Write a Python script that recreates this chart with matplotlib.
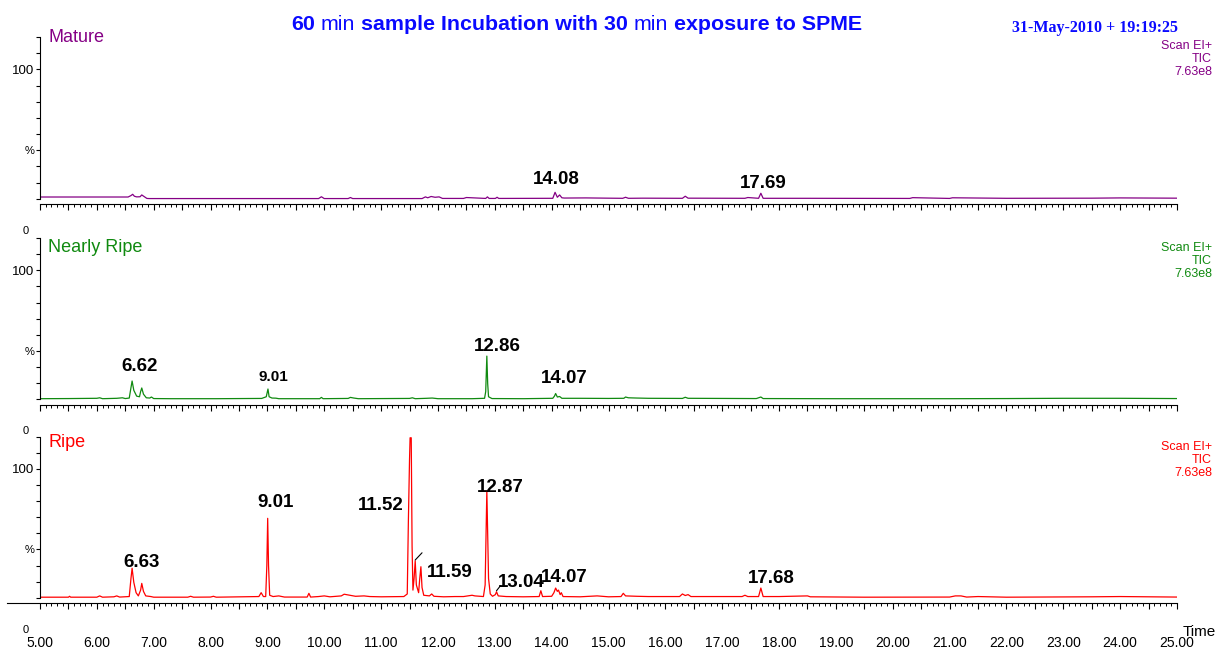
import matplotlib
matplotlib.use('Agg')
import matplotlib.pyplot as plt
from matplotlib.ticker import MultipleLocator, FuncFormatter

plt.rcParams['font.family'] = ['Liberation Sans', 'DejaVu Sans']

# ---- data: (retention time [min], relative intensity [%]) ----
mature = [
    (5.00, 1.4), (6.55, 1.4), (6.60, 2.5), (6.63, 3.5), (6.66, 2.0), (6.70, 1.5),
    (6.76, 1.6), (6.79, 3.0), (6.83, 1.8), (6.88, 0.3), (6.92, 0.2), (9.90, 0.2),
    (9.95, 1.6), (10.00, 0.2), (10.42, 0.2), (10.46, 1.0), (10.50, 0.2), (11.72, 0.2),
    (11.78, 1.5), (11.82, 0.8), (11.88, 1.8), (11.95, 1.2), (12.02, 1.5), (12.08, 0.3),
    (12.45, 0.3), (12.50, 1.0), (12.84, 0.3), (12.87, 1.5), (12.90, 0.3), (13.01, 0.3),
    (13.04, 1.2), (13.07, 0.3), (14.02, 0.4), (14.06, 5.0), (14.10, 1.2), (14.14, 3.0),
    (14.18, 0.8), (14.22, 0.6), (14.60, 0.7), (15.00, 0.5), (15.25, 0.4), (15.30, 1.2),
    (15.35, 0.4), (15.60, 0.5), (16.30, 0.4), (16.35, 2.0), (16.40, 0.5), (17.40, 0.4),
    (17.45, 1.0), (17.64, 0.4), (17.68, 4.3), (17.72, 0.4), (18.50, 0.4), (20.30, 0.3),
    (20.35, 0.9), (21.00, 0.3), (21.05, 0.8), (22.00, 0.4), (23.50, 0.5), (24.00, 0.7),
    (25.00, 0.5),
]

nearly_ripe = [
    (5.00, 0.5), (5.50, 0.6), (6.00, 0.8), (6.05, 1.2), (6.10, 0.5), (6.35, 0.8),
    (6.45, 1.2), (6.50, 0.6), (6.57, 1.0), (6.60, 9.0), (6.62, 14.2), (6.65, 7.0),
    (6.70, 2.5), (6.75, 2.0), (6.77, 6.0), (6.79, 8.8), (6.82, 4.0), (6.87, 1.2),
    (6.93, 1.0), (6.96, 1.8), (7.00, 0.6), (7.30, 0.5), (8.10, 0.5), (8.90, 0.7),
    (8.98, 2.0), (9.01, 8.0), (9.03, 2.0), (9.08, 1.0), (9.15, 0.9), (9.20, 0.5),
    (9.92, 0.5), (9.95, 1.5), (9.98, 0.5), (10.42, 0.7), (10.46, 1.5), (10.52, 1.0),
    (10.60, 0.5), (11.50, 0.7), (11.55, 1.2), (11.60, 0.5), (11.80, 0.8), (11.90, 1.0),
    (12.00, 0.5), (12.60, 0.5), (12.82, 0.8), (12.84, 6.0), (12.86, 33.5), (12.875, 12.0),
    (12.89, 2.0), (12.95, 0.6), (13.50, 0.5), (14.02, 0.8), (14.05, 2.5), (14.07, 4.5),
    (14.10, 1.8), (14.14, 2.2), (14.18, 0.8), (14.50, 0.8), (15.00, 0.7), (15.27, 0.8),
    (15.30, 1.8), (15.35, 1.2), (15.50, 1.0), (15.70, 0.8), (16.30, 0.7), (16.35, 1.6),
    (16.40, 0.8), (17.60, 0.6), (17.68, 1.8), (17.72, 0.6), (19.00, 0.5), (21.00, 0.5),
    (22.00, 0.6), (23.00, 0.8), (24.00, 0.8), (25.00, 0.6),
]

ripe = [
    (5.00, 0.5), (5.50, 0.5), (5.52, 1.2), (5.54, 0.5), (6.00, 0.5), (6.05, 1.5),
    (6.10, 0.5), (6.30, 0.8), (6.35, 1.5), (6.40, 0.6), (6.57, 1.0), (6.60, 15.0),
    (6.62, 22.9), (6.65, 12.0), (6.69, 4.0), (6.73, 1.5), (6.77, 6.0), (6.79, 11.2),
    (6.82, 5.0), (6.86, 1.5), (6.95, 1.0), (7.00, 0.5), (7.60, 0.5), (7.65, 1.2),
    (7.70, 0.5), (8.00, 0.6), (8.05, 1.2), (8.10, 0.5), (8.85, 1.0), (8.89, 4.0),
    (8.93, 1.0), (8.97, 1.0), (8.99, 25.0), (9.005, 61.6), (9.02, 25.0), (9.04, 2.0),
    (9.10, 1.0), (9.20, 1.5), (9.30, 0.6), (9.70, 0.6), (9.73, 3.5), (9.76, 0.6),
    (9.90, 1.0), (10.00, 1.5), (10.10, 0.8), (10.30, 1.5), (10.35, 2.8), (10.45, 2.0),
    (10.55, 1.2), (10.70, 1.5), (10.80, 1.0), (11.00, 0.8), (11.40, 1.0), (11.46, 3.0),
    (11.48, 60.0), (11.50, 107.0), (11.51, 124.0), (11.53, 124.0), (11.545, 40.0),
    (11.56, 6.0), (11.58, 15.0), (11.60, 28.7), (11.62, 10.0), (11.66, 4.0), (11.68, 15.0),
    (11.70, 24.1), (11.72, 8.0), (11.75, 2.0), (11.85, 1.5), (11.89, 3.0), (11.93, 1.2),
    (12.10, 0.8), (12.30, 1.0), (12.45, 1.0), (12.60, 2.0), (12.65, 1.5), (12.80, 1.0),
    (12.83, 10.0), (12.85, 60.0), (12.86, 83.0), (12.875, 50.0), (12.89, 15.0),
    (12.92, 3.0), (12.96, 1.2), (13.01, 2.5), (13.03, 4.7), (13.06, 1.5), (13.20, 1.0),
    (13.50, 0.8), (13.78, 1.0), (13.81, 5.5), (13.84, 1.0), (14.00, 1.2), (14.04, 4.0),
    (14.07, 7.6), (14.10, 5.0), (14.12, 6.0), (14.15, 2.5), (14.17, 4.0), (14.20, 1.0),
    (14.50, 0.8), (14.80, 1.5), (15.00, 0.8), (15.22, 1.0), (15.26, 3.5), (15.30, 1.5),
    (15.50, 1.2), (15.70, 1.0), (16.00, 1.0), (16.25, 1.0), (16.30, 3.0), (16.35, 1.8),
    (16.40, 2.5), (16.45, 1.0), (17.00, 1.0), (17.35, 1.0), (17.40, 2.0), (17.45, 1.0),
    (17.64, 1.0), (17.68, 7.6), (17.72, 1.0), (18.00, 1.0), (18.50, 1.5), (18.55, 0.8),
    (19.50, 0.5), (21.00, 0.6), (21.10, 1.5), (21.20, 1.5), (21.30, 0.6), (21.50, 1.0),
    (22.00, 0.5), (23.50, 0.8), (24.00, 1.0), (24.50, 0.8), (25.00, 0.6),
]

mature_peaks = ['14.08', '17.69']
nearly_ripe_peaks = ['6.62', '9.01', '12.86', '14.07']
ripe_peaks = ['6.63', '9.01', '11.52', '12.87', '11.59', '13.04', '14.07', '17.68']

scan_info = 'Scan EI+\nTIC\n7.63e8'

# ---- layout (pixel positions of the 1216x650 picture) ----
W, H = 1216, 650


def fx(px):
    return px / W


def fy(py):
    return 1 - py / H


panels = [
    # name, colour, data, peaks, label spots (x, y, size), axes top/bottom px, name baseline px, info top px
    ('Mature', '#850085', mature, mature_peaks,
     [(14.09, 15.3, 13.5), (17.72, 12.2, 13.5)], 37, 204, 42, 40),
    ('Nearly Ripe', '#108a10', nearly_ripe, nearly_ripe_peaks,
     [(6.76, 25.1, 13.5), (9.10, 17.1, 11), (13.04, 40.7, 13.5), (14.23, 15.8, 13.5)],
     238, 404.5, 252, 242),
    ('Ripe', '#ff0000', ripe, ripe_peaks,
     [(6.79, 27.2, 13.5), (9.15, 73.7, 13.5), (11.00, 71.9, 13.5), (13.09, 85.1, 13.5),
      (12.21, 20.0, 13.5), (13.46, 12.2, 13.5), (14.23, 16.1, 13.5), (17.86, 14.6, 13.5)],
     436.5, 603, 447, 441),
]

fig = plt.figure(figsize=(12.16, 6.5), dpi=100)

axes = []
for name, color, data, peaks, spots, top, bottom, name_y, info_y in panels:
    ax = fig.add_axes([fx(40), fy(bottom), fx(1177) - fx(40), (bottom - top) / H])
    axes.append(ax)
    t = [p[0] for p in data]
    y = [p[1] for p in data]
    ax.plot(t, y, color=color, lw=0.9)
    ax.set_xlim(5, 25)
    ax.set_ylim(-4, 125)

    for s in ['top', 'right']:
        ax.spines[s].set_visible(False)
    ax.spines['left'].set_bounds(0, 125)
    ax.spines['left'].set_linewidth(0.8)
    ax.spines['bottom'].set_linewidth(0.8)

    ax.set_yticks([37.5, 100])
    ax.set_yticklabels(['%', '100'])
    ax.yaxis.set_minor_locator(MultipleLocator(12.5))
    ax.tick_params(axis='y', which='both', direction='out', length=3, width=0.8, pad=1)
    ax.get_yticklabels()[0].set_fontsize(8)
    ax.get_yticklabels()[1].set_fontsize(9.5)

    ax.xaxis.set_major_locator(MultipleLocator(0.5))
    ax.xaxis.set_minor_locator(MultipleLocator(0.1))
    ax.tick_params(axis='x', which='major', direction='out', length=4, width=0.8)
    ax.tick_params(axis='x', which='minor', direction='out', length=2.5, width=0.7)
    ax.xaxis.set_major_formatter(FuncFormatter(lambda v, p: f'{v:.2f}' if abs(v - round(v)) < 1e-6 else ''))
    ax.tick_params(axis='x', labelbottom=False)

    # "0" of the intensity axis, printed below the trace as in MassLynx
    ax.annotate('0', xy=(0, 0), xycoords=('axes fraction', 'data'), xytext=(-8, -23),
                textcoords='offset points', ha='right', va='center', fontsize=8, annotation_clip=False)

    for lab, (xl, yl, sz) in zip(peaks, spots):
        ax.text(xl, yl, lab, ha='center', va='center', fontsize=sz, fontweight='bold', color='black')

    fig.text(fx(48), fy(name_y), name, color=color, fontsize=13, va='baseline', ha='left')
    fig.text(fx(1212), fy(info_y), scan_info, color=color, fontsize=9, ha='right', va='top',
             linespacing=1.12, multialignment='right')

ax_r = axes[-1]
ax_r.tick_params(axis='x', labelbottom=True, labelsize=10, pad=20)
ax_r.spines['bottom'].set_bounds(4.42, 25)
ax_r.spines['bottom'].set_clip_on(False)

# leader lines in the Ripe trace
ax_r.annotate('', xy=(11.60, 29.3), xytext=(11.72, 34.9),
              arrowprops=dict(arrowstyle='-', lw=0.8, color='black', shrinkA=0, shrinkB=0))
ax_r.annotate('', xy=(13.03, 5.5), xytext=(13.10, 9.4),
              arrowprops=dict(arrowstyle='-', lw=0.8, color='black', shrinkA=0, shrinkB=0))

fig.text(fx(1216), fy(632), 'Time', fontsize=11, ha='right', va='center')

# title with mixed weights
blue = '#0a0aff'
pieces = [('60', 'bold'), ('min', 'normal'), ('sample Incubation with 30', 'bold'),
          ('min', 'normal'), ('exposure to SPME', 'bold')]
prev = fig.text(fx(291), fy(30), pieces[0][0], color=blue, fontsize=15.4,
                fontweight=pieces[0][1], va='baseline', ha='left')
for txt, wt in pieces[1:]:
    prev = ax_r.annotate(txt, xy=(1, 0), xycoords=prev, xytext=(4.3, 0), textcoords='offset points',
                         color=blue, fontsize=15.4, fontweight=wt, va='bottom', ha='left',
                         annotation_clip=False)

fig.text(fx(1178), fy(32), '31-May-2010 + 19:19:25', color=blue, fontsize=11.5,
         fontweight='bold', family='Liberation Serif', ha='right', va='baseline')

fig.savefig('out.png', dpi=100)
